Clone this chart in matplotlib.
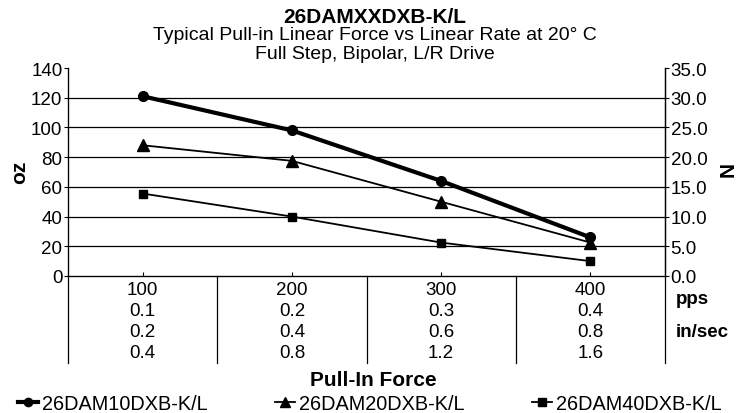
import matplotlib
matplotlib.use("Agg")
import matplotlib.pyplot as plt
import numpy as np

plt.rcParams['font.family'] = ['Liberation Sans', 'DejaVu Sans']

# data
pps = ["100", "200", "300", "400"]
row2 = ["0.1", "0.2", "0.3", "0.4"]
row3 = ["0.2", "0.4", "0.6", "0.8"]
row4 = ["0.4", "0.8", "1.2", "1.6"]
names = ["26DAM10DXB-K/L", "26DAM20DXB-K/L", "26DAM40DXB-K/L"]
dam10 = [121, 98, 64, 26]
dam20 = [88, 77.5, 50, 22.5]
dam40 = [55.5, 40, 22.5, 10]
oz_ticks = [0, 20, 40, 60, 80, 100, 120, 140]
n_ticks = [0, 5, 10, 15, 20, 25, 30, 35]

W, H = 750, 414
fs = 13.5

def fx(px):
    return px / W

def fy(px):
    return 1 - px / H

fig = plt.figure(figsize=(7.5, 4.14), dpi=100)
left, right, top, bottom = 68, 665, 69, 277
ax = fig.add_axes([fx(left), fy(bottom), (right - left) / W, (bottom - top) / H])

x = np.arange(len(pps))
ax.plot(x, dam10, color='black', lw=3, marker='o', ms=7, label=names[0])
ax.plot(x, dam20, color='black', lw=1.3, marker='^', ms=8, label=names[1])
ax.plot(x, dam40, color='black', lw=1.3, marker='s', ms=6, label=names[2])

ax.set_xlim(-0.5, len(pps) - 0.5)
ax.set_ylim(0, 140)
ax.set_yticks(oz_ticks)
ax.set_yticklabels([str(v) for v in oz_ticks], fontsize=fs)
for v in oz_ticks[1:-1]:
    ax.axhline(v, color='black', lw=0.9, zorder=0)
ax.tick_params(axis='y', direction='out', length=3, width=0.8, pad=1)
ax.set_xticks(x)
ax.set_xticklabels([])
ax.tick_params(axis='x', direction='in', length=3, width=0.8)
ax.spines['top'].set_visible(False)
for s in ['left', 'bottom', 'right']:
    ax.spines[s].set_linewidth(0.9)

ax2 = ax.twinx()
ax2.set_ylim(0, 35)
ax2.set_yticks(n_ticks)
ax2.set_yticklabels(["%.1f" % v for v in n_ticks], fontsize=fs)
ax2.tick_params(axis='y', direction='out', length=3, width=0.8, pad=1)
ax2.spines['top'].set_visible(False)
ax2.spines['right'].set_linewidth(0.9)

# category table under the axis
trans = ax.get_xaxis_transform()
axh = bottom - top
rows = [pps, row2, row3, row4]
row_y = [290.7, 311.5, 332.7, 354]
for r, yy in zip(rows, row_y):
    for i, lab in enumerate(r):
        ax.text(i, -(yy - bottom) / axh, lab, transform=trans, ha='center',
                va='center', fontsize=fs)
sep_end = -(364 - bottom) / axh
for b in np.arange(-0.5, len(pps), 1.0):
    ax.plot([b, b], [0, sep_end], transform=trans, color='black', lw=0.9,
            clip_on=False)

fig.text(fx(676), fy(300), "pps", fontsize=13.5, fontweight='bold', ha='left', va='center')
fig.text(fx(676), fy(333), "in/sec", fontsize=13.5, fontweight='bold', ha='left', va='center')

# titles
fig.text(0.5, fy(23), "26DAMXXDXB-K/L", fontsize=15, fontweight='bold', ha='center', va='baseline')
fig.text(0.5, fy(40.5), "Typical Pull-in Linear Force vs Linear Rate at 20° C", fontsize=14,
         ha='center', va='baseline')
fig.text(0.5, fy(59), "Full Step, Bipolar, L/R Drive", fontsize=14, ha='center', va='baseline')

fig.text(fx(373), fy(381), "Pull-In Force", fontsize=15, fontweight='bold', ha='center', va='center')
fig.text(fx(20), fy(172), "oz", fontsize=15, fontweight='bold', rotation=90, ha='center', va='center')
fig.text(fx(723), fy(172), "N", fontsize=15, fontweight='bold', rotation=270, ha='center', va='center')

fig.legend(loc='center left', bbox_to_anchor=(fx(18), fy(404.5)), ncol=3, frameon=False,
           fontsize=14.3, borderpad=0, borderaxespad=0, handlelength=1.0,
           handletextpad=0.2, columnspacing=3.4, markerscale=0.85)

fig.savefig("out.png", dpi=100)
